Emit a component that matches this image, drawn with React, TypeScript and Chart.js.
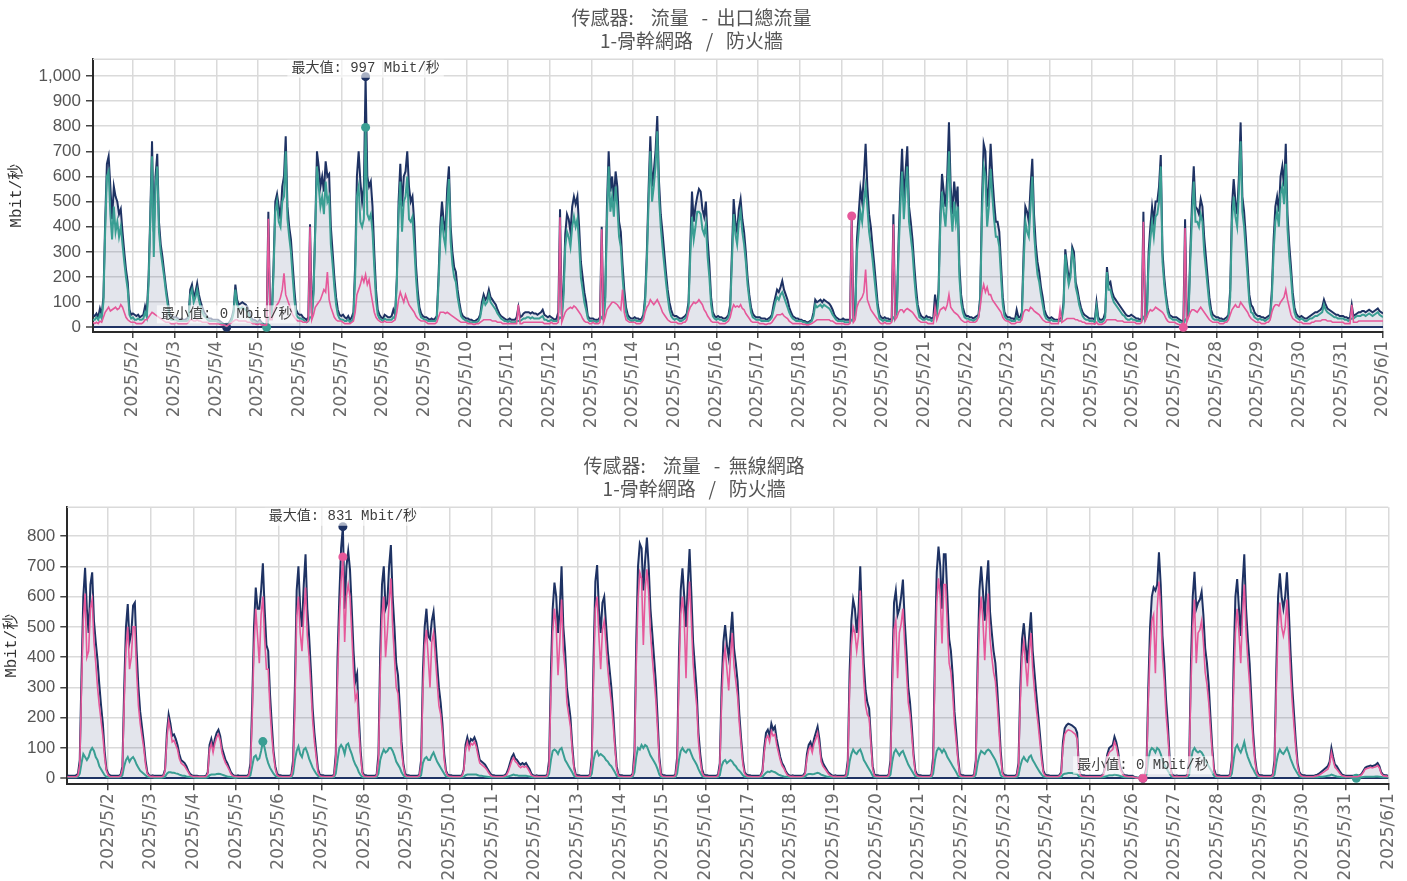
import React, { useEffect, useRef } from 'react';
import { Chart, registerables } from 'chart.js';

Chart.register(...registerables);

// first sample is 2025/5/1 01:00, hourly samples, x = hours since 2025/5/1 00:00
const START_HOUR = 1;
const DAY_HOURS = 24;

// x tick labels (one per midnight, 2025/5/2 .. 2025/6/1)
const dayLabels = [
  '2025/5/2', '2025/5/3', '2025/5/4', '2025/5/5', '2025/5/6', '2025/5/7', '2025/5/8', '2025/5/9',
  '2025/5/10', '2025/5/11', '2025/5/12', '2025/5/13', '2025/5/14', '2025/5/15', '2025/5/16', '2025/5/17',
  '2025/5/18', '2025/5/19', '2025/5/20', '2025/5/21', '2025/5/22', '2025/5/23', '2025/5/24', '2025/5/25',
  '2025/5/26', '2025/5/27', '2025/5/28', '2025/5/29', '2025/5/30', '2025/5/31', '2025/6/1',
];

const titleOut = ['传感器:    流量   -  出口總流量', '1-骨幹網路   /   防火牆'];
const titleWl = ['传感器:    流量   -  無線網路', '1-骨幹網路   /   防火牆'];
const unitLabel = 'Mbit/秒';

// ---------- chart 1: 出口總流量 (Mbit/s) ----------
const outNavy = [
  50, 45, 55, 40, 75, 50, 120, 420, 650, 680, 560, 430, 560, 520, 500, 450, 470, 380, 300, 230, 180, 70, 50, 55,
  50, 45, 50, 40, 45, 50, 85, 60, 200, 450, 740, 380, 600, 690, 420, 330, 280, 220, 160, 110, 60, 45, 40, 40,
  40, 35, 30, 35, 30, 30, 35, 40, 150, 170, 120, 140, 175, 130, 100, 80, 60, 50, 40, 35, 35, 30, 30, 30,
  30, 25, 20, 15, 10, 0, 15, 25, 40, 70, 170, 110, 90, 95, 100, 95, 90, 80, 60, 40, 30, 30, 25, 20,
  30, 20, 15, 10, 5, 460, 60, 50, 250, 500, 530, 480, 430, 560, 600, 760, 480, 400, 350, 250, 150, 70, 55, 50,
  50, 40, 35, 30, 40, 410, 55, 150, 400, 700, 640, 560, 600, 540, 660, 600, 610, 400, 300, 200, 120, 70, 50, 45,
  50, 40, 35, 45, 30, 40, 60, 250, 600, 700, 580, 500, 560, 997, 600, 560, 580, 480, 300, 150, 70, 50, 40, 35,
  50, 45, 40, 40, 45, 70, 50, 200, 500, 650, 480, 600, 620, 700, 560, 500, 520, 420, 250, 150, 80, 55, 45, 40,
  40, 35, 30, 35, 30, 35, 45, 200, 400, 500, 420, 380, 550, 640, 400, 300, 240, 220, 150, 100, 60, 45, 40, 35,
  35, 30, 30, 25, 25, 30, 35, 50, 100, 130, 110, 120, 150, 120, 110, 100, 90, 70, 55, 45, 40, 35, 30, 30,
  35, 30, 30, 30, 40, 80, 40, 45, 55, 60, 60, 60, 55, 60, 55, 55, 50, 55, 60, 70, 50, 45, 40, 45,
  40, 35, 30, 35, 60, 470, 50, 150, 370, 450, 430, 380, 480, 520, 490, 520, 400, 260, 200, 140, 100, 45, 35, 35,
  35, 30, 30, 30, 40, 400, 40, 120, 480, 700, 540, 600, 500, 620, 560, 420, 380, 250, 150, 80, 50, 40, 35, 35,
  40, 35, 35, 30, 35, 50, 120, 300, 550, 760, 560, 620, 700, 840, 580, 450, 380, 300, 220, 150, 100, 70, 50, 45,
  45, 40, 35, 35, 40, 45, 55, 100, 330, 540, 420, 480, 520, 550, 540, 470, 440, 500, 350, 250, 120, 60, 45, 40,
  45, 40, 40, 35, 35, 40, 50, 90, 300, 510, 420, 380, 470, 510, 430, 380, 300, 200, 130, 80, 55, 45, 40, 40,
  40, 35, 35, 35, 30, 35, 40, 50, 90, 120, 150, 140, 160, 185, 150, 130, 110, 80, 60, 45, 40, 35, 35, 30,
  30, 25, 25, 20, 20, 25, 30, 60, 110, 100, 105, 110, 100, 110, 105, 100, 95, 85, 70, 50, 40, 35, 30, 30,
  35, 30, 30, 30, 30, 445, 40, 60, 350, 450, 550, 500, 600, 730, 560, 450, 400, 320, 250, 170, 90, 50, 40, 35,
  40, 35, 35, 30, 35, 450, 50, 80, 350, 550, 710, 500, 620, 720, 480, 420, 350, 250, 160, 90, 60, 45, 40, 35,
  45, 40, 40, 35, 40, 130, 60, 150, 450, 610, 540, 480, 600, 815, 560, 450, 580, 500, 560, 250, 130, 80, 55, 45,
  45, 40, 40, 35, 40, 45, 50, 120, 500, 730, 700, 480, 560, 730, 600, 500, 420, 420, 380, 250, 120, 60, 45, 40,
  40, 35, 35, 30, 70, 40, 40, 60, 300, 480, 460, 420, 560, 670, 450, 330, 260, 220, 160, 120, 70, 50, 40, 35,
  40, 35, 30, 30, 30, 35, 40, 100, 310, 250, 190, 220, 320, 300, 180, 150, 110, 80, 60, 50, 45, 40, 35, 35,
  35, 30, 100, 40, 30, 30, 35, 60, 240, 170, 180, 140, 120, 110, 100, 90, 80, 70, 60, 50, 45, 45, 50, 45,
  40, 35, 35, 30, 35, 460, 40, 60, 300, 400, 480, 420, 500, 500, 560, 685, 300, 200, 130, 80, 50, 45, 40, 40,
  40, 35, 30, 25, 15, 430, 40, 60, 300, 500, 640, 480, 470, 450, 510, 480, 360, 280, 200, 120, 70, 50, 45, 40,
  40, 35, 35, 30, 35, 40, 50, 150, 480, 590, 500, 450, 600, 815, 520, 460, 360, 250, 130, 90, 80, 60, 50, 45,
  45, 40, 40, 35, 40, 45, 50, 150, 350, 480, 520, 460, 600, 640, 560, 730, 450, 330, 240, 140, 80, 55, 45, 40,
  45, 40, 35, 35, 40, 45, 50, 55, 60, 60, 65, 70, 80, 110, 90, 75, 70, 65, 60, 55, 50, 50, 45, 45,
  45, 40, 40, 35, 40, 90, 45, 50, 55, 60, 60, 65, 65, 60, 65, 70, 65, 60, 65, 70, 75, 65, 60, 55,
];

const outTeal = [
  30, 30, 40, 30, 50, 35, 100, 380, 600, 620, 450, 350, 480, 380, 420, 360, 400, 330, 260, 200, 150, 50, 35, 40,
  30, 30, 35, 30, 30, 35, 60, 40, 170, 420, 680, 280, 560, 640, 380, 300, 250, 200, 140, 90, 45, 30, 30, 30,
  30, 25, 25, 25, 25, 25, 25, 30, 130, 150, 100, 120, 150, 110, 80, 60, 45, 40, 30, 25, 25, 25, 25, 25,
  20, 18, 15, 12, 8, 5, 10, 20, 30, 60, 150, 90, 75, 75, 80, 75, 70, 60, 45, 30, 20, 20, 15, 15,
  20, 15, 10, 5, 0, 30, 40, 35, 220, 460, 500, 420, 400, 500, 520, 700, 430, 360, 300, 200, 110, 50, 40, 35,
  35, 30, 25, 20, 25, 40, 40, 130, 380, 640, 560, 480, 520, 450, 580, 500, 520, 330, 250, 160, 90, 50, 35, 30,
  30, 25, 25, 30, 20, 25, 40, 200, 520, 560, 420, 400, 430, 795, 450, 430, 450, 380, 240, 110, 50, 35, 30, 25,
  35, 30, 30, 30, 30, 40, 35, 180, 450, 580, 380, 500, 520, 600, 430, 420, 440, 330, 200, 110, 60, 40, 35, 30,
  30, 25, 25, 25, 25, 25, 35, 170, 350, 440, 360, 320, 480, 590, 340, 250, 200, 180, 120, 80, 45, 35, 30, 25,
  25, 20, 20, 20, 20, 20, 25, 40, 80, 110, 90, 100, 130, 100, 90, 80, 70, 55, 45, 35, 30, 25, 25, 20,
  25, 20, 20, 20, 25, 25, 25, 30, 35, 35, 40, 40, 35, 40, 35, 35, 35, 35, 40, 45, 30, 30, 25, 25,
  30, 25, 25, 25, 30, 40, 35, 120, 320, 380, 360, 320, 400, 440, 400, 430, 330, 200, 150, 100, 70, 35, 25, 25,
  25, 25, 20, 25, 30, 40, 30, 100, 420, 640, 460, 520, 440, 560, 480, 360, 320, 200, 110, 60, 35, 30, 25, 25,
  30, 25, 25, 25, 25, 40, 100, 260, 500, 700, 500, 560, 640, 780, 520, 400, 320, 250, 180, 120, 70, 45, 35, 30,
  35, 30, 25, 25, 30, 35, 45, 80, 280, 440, 350, 400, 460, 460, 450, 390, 370, 410, 280, 200, 90, 45, 35, 30,
  35, 30, 30, 25, 25, 30, 40, 70, 260, 450, 370, 330, 420, 460, 380, 330, 260, 170, 110, 60, 40, 35, 30, 30,
  30, 25, 25, 25, 25, 25, 30, 40, 70, 100, 120, 110, 130, 140, 120, 100, 80, 60, 45, 35, 30, 25, 25, 25,
  25, 20, 20, 15, 15, 20, 25, 45, 90, 80, 85, 90, 80, 90, 85, 80, 75, 65, 50, 40, 30, 25, 25, 25,
  25, 20, 20, 20, 20, 30, 30, 45, 300, 380, 460, 420, 500, 560, 480, 380, 330, 270, 200, 130, 70, 35, 30, 25,
  30, 25, 25, 25, 25, 40, 40, 60, 300, 480, 620, 430, 540, 640, 420, 360, 300, 200, 120, 70, 40, 35, 30, 30,
  35, 30, 30, 25, 30, 60, 45, 120, 400, 540, 460, 400, 520, 700, 480, 380, 500, 420, 480, 200, 100, 60, 40, 35,
  35, 30, 30, 25, 30, 35, 40, 100, 440, 640, 600, 400, 480, 630, 520, 430, 360, 360, 320, 200, 90, 45, 35, 30,
  30, 25, 25, 25, 40, 30, 30, 45, 250, 420, 380, 360, 480, 600, 380, 280, 210, 180, 130, 90, 50, 35, 30, 25,
  30, 25, 25, 25, 25, 25, 30, 80, 290, 220, 170, 200, 300, 270, 160, 130, 90, 65, 45, 35, 30, 30, 25, 25,
  25, 20, 80, 25, 20, 20, 25, 40, 220, 150, 150, 120, 100, 90, 80, 70, 60, 50, 45, 35, 30, 30, 35, 30,
  30, 25, 25, 25, 25, 40, 30, 45, 260, 350, 420, 360, 440, 450, 500, 640, 260, 170, 110, 60, 40, 35, 30, 30,
  30, 25, 20, 20, 10, 30, 35, 45, 260, 440, 580, 420, 420, 400, 450, 420, 300, 230, 160, 90, 50, 35, 30, 30,
  30, 25, 25, 25, 25, 30, 40, 120, 420, 520, 440, 400, 540, 740, 460, 400, 300, 200, 100, 60, 55, 40, 35, 30,
  35, 30, 30, 25, 30, 35, 40, 120, 300, 420, 460, 400, 530, 560, 490, 650, 390, 280, 200, 110, 60, 40, 35, 30,
  35, 30, 25, 25, 30, 35, 35, 40, 45, 45, 50, 55, 60, 90, 70, 60, 55, 50, 45, 40, 40, 35, 35, 35,
  35, 30, 30, 25, 30, 35, 35, 40, 45, 45, 45, 50, 50, 45, 50, 55, 50, 45, 50, 55, 60, 50, 45, 40,
];

const outPink = [
  20, 15, 20, 15, 25, 20, 40, 60, 70, 80, 65, 70, 75, 80, 70, 75, 90, 80, 60, 40, 30, 25, 20, 20,
  20, 15, 15, 15, 15, 20, 30, 30, 40, 50, 60, 55, 50, 45, 40, 35, 30, 25, 20, 20, 20, 15, 15, 15,
  20, 15, 15, 15, 15, 15, 15, 20, 30, 30, 25, 25, 30, 25, 25, 20, 20, 20, 20, 15, 15, 15, 15, 15,
  15, 12, 10, 10, 8, 5, 10, 15, 20, 25, 30, 30, 25, 25, 25, 25, 25, 20, 20, 20, 15, 15, 12, 12,
  15, 10, 10, 8, 10, 432, 30, 30, 60, 80, 90, 100, 120, 150, 215, 130, 110, 90, 70, 50, 40, 30, 25, 25,
  25, 20, 20, 20, 25, 400, 30, 50, 80, 90, 100, 110, 130, 150, 140, 220, 110, 80, 60, 40, 30, 25, 25, 25,
  20, 15, 15, 15, 15, 20, 25, 60, 130, 150, 170, 200, 180, 210, 170, 190, 140, 100, 60, 40, 30, 25, 20, 20,
  25, 20, 20, 20, 20, 25, 30, 60, 110, 140, 120, 100, 130, 110, 90, 80, 70, 60, 45, 35, 30, 25, 25, 25,
  20, 15, 15, 15, 15, 15, 20, 40, 60, 60, 60, 55, 60, 55, 50, 45, 40, 35, 30, 25, 20, 20, 20, 20,
  15, 15, 15, 12, 12, 15, 15, 20, 25, 30, 30, 30, 30, 30, 25, 25, 25, 20, 20, 20, 15, 15, 15, 15,
  15, 15, 15, 15, 15, 90, 15, 15, 20, 20, 20, 20, 20, 20, 20, 20, 20, 20, 20, 20, 15, 15, 15, 15,
  20, 15, 15, 15, 20, 438, 20, 40, 60, 70, 75, 80, 75, 85, 80, 70, 60, 50, 35, 25, 20, 20, 15, 15,
  20, 15, 15, 15, 20, 390, 20, 40, 70, 80, 90, 100, 100, 95, 90, 80, 70, 150, 60, 30, 25, 20, 20, 20,
  20, 15, 15, 15, 20, 30, 60, 80, 90, 110, 100, 90, 100, 110, 95, 80, 60, 50, 40, 30, 25, 20, 20, 20,
  20, 15, 15, 15, 20, 20, 30, 60, 80, 90, 100, 95, 100, 110, 100, 90, 70, 60, 45, 35, 25, 20, 20, 20,
  20, 15, 15, 15, 15, 20, 25, 40, 70, 90, 80, 85, 80, 90, 75, 70, 55, 45, 35, 25, 20, 20, 20, 20,
  15, 15, 15, 12, 12, 15, 15, 20, 30, 40, 50, 50, 50, 55, 45, 40, 35, 25, 20, 15, 15, 15, 15, 15,
  15, 12, 12, 10, 10, 12, 15, 20, 25, 30, 30, 30, 30, 30, 30, 30, 30, 25, 25, 20, 15, 15, 15, 15,
  15, 12, 12, 12, 15, 443, 20, 30, 80, 100, 110, 120, 140, 230, 110, 90, 70, 60, 50, 40, 30, 20, 15, 15,
  20, 15, 15, 15, 20, 410, 30, 40, 60, 70, 70, 60, 70, 75, 70, 65, 60, 50, 40, 30, 25, 20, 20, 20,
  20, 15, 15, 15, 15, 80, 30, 50, 70, 75, 80, 70, 90, 130, 80, 70, 60, 55, 50, 40, 30, 25, 20, 20,
  25, 20, 20, 20, 20, 25, 40, 80, 140, 170, 140, 160, 130, 130, 110, 100, 90, 80, 70, 60, 40, 30, 25, 25,
  20, 15, 15, 15, 20, 20, 20, 30, 60, 70, 70, 65, 80, 75, 65, 60, 55, 50, 40, 30, 25, 20, 20, 20,
  15, 15, 15, 15, 15, 70, 20, 25, 30, 35, 35, 35, 35, 35, 30, 30, 25, 25, 20, 20, 15, 15, 15, 15,
  15, 12, 20, 12, 12, 12, 15, 20, 30, 30, 30, 30, 30, 30, 25, 25, 25, 25, 20, 20, 20, 20, 20, 20,
  20, 15, 15, 15, 20, 420, 25, 40, 60, 70, 65, 70, 80, 75, 70, 65, 60, 50, 35, 25, 20, 20, 20, 20,
  15, 12, 10, 5, 0, 395, 20, 40, 60, 70, 70, 65, 60, 70, 80, 70, 60, 50, 40, 30, 25, 20, 20, 20,
  20, 15, 15, 15, 20, 20, 30, 50, 70, 80, 90, 80, 80, 100, 90, 80, 70, 60, 45, 35, 30, 25, 20, 20,
  20, 15, 15, 15, 20, 20, 30, 60, 80, 90, 90, 85, 100, 110, 120, 150, 110, 80, 50, 35, 30, 25, 20, 20,
  20, 15, 15, 15, 15, 15, 20, 20, 25, 25, 25, 25, 30, 30, 30, 25, 25, 25, 20, 20, 20, 20, 20, 20,
  20, 15, 15, 15, 15, 90, 20, 20, 20, 25, 25, 25, 25, 25, 25, 25, 25, 25, 25, 25, 25, 25, 25, 25,
];

// ---------- chart 2: 無線網路 (Mbit/s) ----------
const wlNavy = [
  10, 8, 8, 8, 8, 10, 15, 60, 350, 600, 695, 560, 480, 640, 680, 520, 450, 390, 310, 240, 180, 90, 30, 15,
  10, 8, 8, 8, 8, 8, 12, 40, 300, 500, 575, 450, 480, 570, 580, 420, 300, 220, 170, 120, 60, 20, 10, 8,
  10, 8, 8, 8, 8, 8, 10, 30, 150, 210, 180, 140, 145, 130, 110, 80, 60, 55, 50, 40, 25, 15, 10, 8,
  8, 8, 7, 7, 7, 7, 8, 20, 110, 130, 100, 130, 150, 160, 140, 100, 80, 60, 50, 35, 20, 12, 8, 8,
  10, 8, 8, 8, 8, 8, 12, 50, 250, 500, 630, 560, 560, 620, 710, 560, 440, 420, 280, 180, 90, 40, 15, 10,
  10, 8, 8, 8, 8, 8, 12, 60, 300, 620, 700, 560, 500, 640, 740, 560, 470, 360, 230, 150, 90, 30, 12, 10,
  10, 8, 8, 8, 8, 8, 12, 80, 400, 600, 760, 831, 560, 700, 750, 690, 560, 420, 320, 345, 200, 90, 20, 10,
  10, 8, 8, 8, 8, 8, 12, 80, 420, 640, 700, 560, 580, 700, 770, 600, 500, 380, 340, 240, 120, 50, 15, 10,
  10, 8, 8, 8, 8, 8, 12, 60, 350, 500, 560, 470, 460, 520, 550, 470, 380, 300, 250, 180, 80, 25, 12, 10,
  10, 8, 8, 8, 8, 8, 10, 30, 110, 135, 110, 130, 125, 135, 120, 90, 60, 55, 50, 45, 35, 25, 15, 10,
  10, 8, 8, 8, 8, 8, 10, 15, 30, 50, 70, 80, 65, 60, 50, 45, 50, 45, 50, 40, 30, 15, 10, 8,
  10, 8, 8, 8, 8, 8, 12, 60, 350, 560, 646, 600, 480, 560, 700, 500, 420, 300, 250, 200, 110, 40, 12, 10,
  10, 8, 8, 8, 8, 8, 12, 70, 400, 650, 704, 560, 480, 580, 600, 510, 420, 360, 300, 220, 120, 40, 12, 10,
  10, 8, 8, 8, 8, 8, 15, 90, 450, 700, 775, 760, 620, 720, 795, 700, 560, 480, 400, 320, 200, 70, 15, 10,
  10, 8, 8, 8, 8, 8, 12, 70, 400, 620, 693, 600, 500, 640, 757, 610, 450, 370, 290, 150, 80, 30, 12, 10,
  10, 8, 8, 8, 8, 8, 12, 50, 300, 450, 506, 440, 400, 470, 550, 430, 380, 320, 210, 130, 60, 20, 12, 10,
  10, 8, 8, 8, 8, 8, 10, 25, 100, 150, 160, 140, 180, 160, 170, 130, 100, 70, 50, 40, 25, 15, 10, 8,
  10, 8, 8, 8, 8, 8, 10, 20, 80, 110, 120, 100, 130, 150, 170, 130, 70, 50, 40, 30, 20, 15, 10, 8,
  10, 8, 8, 8, 8, 8, 12, 60, 350, 520, 590, 560, 480, 550, 700, 520, 380, 290, 250, 230, 130, 40, 12, 10,
  10, 8, 8, 8, 8, 8, 12, 60, 350, 580, 620, 540, 560, 600, 656, 520, 420, 300, 250, 170, 80, 25, 12, 10,
  10, 8, 8, 8, 8, 8, 12, 70, 420, 680, 765, 700, 560, 740, 740, 600, 460, 420, 340, 220, 150, 70, 15, 10,
  10, 8, 8, 8, 8, 8, 12, 60, 380, 620, 700, 620, 520, 640, 720, 550, 480, 420, 380, 300, 200, 90, 20, 10,
  10, 8, 8, 8, 8, 8, 12, 50, 300, 460, 512, 440, 380, 470, 548, 420, 350, 280, 215, 150, 80, 25, 12, 10,
  10, 8, 8, 8, 8, 8, 10, 20, 120, 165, 175, 180, 178, 175, 170, 165, 150, 30, 12, 10, 10, 8, 8, 8,
  8, 8, 8, 8, 8, 8, 10, 20, 50, 80, 100, 105, 110, 137, 120, 90, 45, 25, 15, 10, 10, 8, 8, 8,
  5, 3, 2, 2, 1, 0, 8, 40, 300, 500, 600, 630, 620, 640, 746, 640, 470, 380, 260, 180, 70, 20, 10, 8,
  10, 8, 8, 8, 8, 8, 12, 60, 380, 600, 682, 560, 580, 590, 616, 540, 430, 380, 310, 200, 100, 30, 12, 10,
  10, 8, 8, 8, 8, 8, 12, 60, 380, 600, 658, 560, 470, 640, 740, 560, 460, 380, 260, 150, 70, 25, 12, 10,
  10, 8, 8, 8, 8, 8, 12, 60, 360, 600, 677, 600, 560, 600, 680, 560, 420, 300, 210, 120, 50, 20, 12, 10,
  10, 8, 8, 8, 8, 8, 10, 12, 15, 20, 25, 30, 35, 40, 55, 100, 70, 45, 40, 30, 20, 12, 10, 8,
  8, 8, 8, 8, 8, 6, 8, 10, 15, 25, 35, 38, 40, 42, 40, 42, 45, 50, 40, 20, 12, 10, 10, 8,
];

const wlPink = [
  5, 5, 5, 5, 5, 5, 10, 45, 300, 520, 610, 400, 420, 560, 590, 450, 380, 300, 240, 190, 140, 70, 25, 10,
  5, 5, 5, 5, 5, 5, 8, 30, 250, 430, 500, 360, 400, 500, 500, 350, 240, 180, 140, 100, 45, 15, 8, 5,
  6, 5, 5, 5, 5, 5, 7, 25, 130, 190, 160, 120, 125, 110, 95, 65, 50, 45, 40, 30, 20, 10, 7, 5,
  6, 6, 5, 5, 5, 5, 6, 15, 95, 115, 85, 115, 135, 145, 125, 85, 65, 50, 40, 28, 15, 8, 6, 6,
  5, 5, 5, 5, 5, 5, 8, 35, 200, 430, 560, 470, 380, 540, 600, 460, 360, 360, 230, 140, 75, 30, 10, 6,
  6, 5, 5, 5, 5, 5, 8, 40, 230, 530, 600, 480, 420, 540, 630, 470, 400, 300, 190, 120, 70, 20, 8, 6,
  6, 5, 5, 5, 5, 5, 8, 60, 330, 520, 650, 731, 450, 600, 640, 600, 480, 350, 260, 280, 160, 70, 15, 6,
  6, 5, 5, 5, 5, 5, 8, 60, 340, 540, 600, 400, 480, 580, 660, 500, 400, 300, 280, 190, 90, 40, 10, 6,
  6, 5, 5, 5, 5, 5, 8, 45, 290, 440, 490, 400, 300, 450, 480, 400, 320, 240, 210, 150, 60, 20, 8, 6,
  6, 5, 5, 5, 5, 5, 7, 25, 95, 120, 95, 115, 110, 120, 105, 75, 50, 45, 40, 35, 28, 18, 10, 6,
  6, 5, 5, 5, 5, 5, 7, 10, 22, 40, 58, 68, 55, 50, 40, 35, 40, 36, 40, 32, 22, 10, 7, 5,
  6, 5, 5, 5, 5, 5, 8, 40, 280, 480, 560, 500, 340, 450, 590, 420, 360, 250, 210, 170, 90, 30, 8, 6,
  6, 5, 5, 5, 5, 5, 8, 50, 330, 560, 600, 470, 360, 490, 520, 440, 360, 300, 250, 180, 100, 30, 8, 6,
  6, 5, 5, 5, 5, 5, 10, 65, 370, 590, 680, 660, 440, 620, 690, 610, 480, 400, 330, 260, 160, 55, 10, 6,
  6, 5, 5, 5, 5, 5, 8, 50, 330, 540, 600, 520, 330, 550, 650, 520, 380, 300, 240, 120, 60, 20, 8, 6,
  6, 5, 5, 5, 5, 5, 8, 38, 250, 380, 430, 360, 290, 400, 480, 370, 320, 270, 180, 110, 45, 15, 8, 6,
  6, 5, 5, 5, 5, 5, 7, 20, 85, 130, 140, 120, 155, 140, 145, 110, 85, 60, 42, 33, 20, 10, 7, 5,
  6, 5, 5, 5, 5, 5, 7, 15, 65, 95, 105, 85, 115, 130, 150, 110, 55, 40, 32, 24, 15, 10, 7, 5,
  6, 5, 5, 5, 5, 5, 8, 45, 290, 440, 500, 480, 420, 470, 620, 440, 320, 240, 210, 200, 110, 30, 8, 6,
  6, 5, 5, 5, 5, 5, 8, 45, 290, 490, 520, 330, 480, 510, 560, 440, 350, 250, 210, 140, 65, 18, 8, 6,
  6, 5, 5, 5, 5, 5, 8, 50, 350, 580, 660, 600, 445, 640, 640, 500, 380, 350, 280, 180, 120, 55, 10, 6,
  6, 5, 5, 5, 5, 5, 8, 45, 320, 520, 600, 520, 390, 520, 610, 460, 400, 350, 320, 250, 160, 70, 15, 6,
  6, 5, 5, 5, 5, 5, 8, 38, 250, 400, 450, 380, 303, 410, 480, 360, 290, 230, 180, 120, 60, 18, 8, 6,
  6, 5, 5, 5, 5, 5, 7, 16, 100, 145, 155, 160, 158, 155, 150, 145, 130, 22, 8, 6, 6, 5, 5, 5,
  5, 5, 5, 5, 5, 5, 7, 15, 40, 70, 85, 90, 95, 120, 105, 75, 35, 20, 10, 7, 6, 5, 5, 5,
  3, 2, 1, 1, 1, 0, 5, 30, 250, 420, 520, 540, 347, 560, 650, 560, 400, 320, 210, 140, 55, 15, 6, 5,
  6, 5, 5, 5, 5, 5, 8, 45, 310, 500, 590, 380, 480, 490, 520, 450, 350, 310, 250, 160, 80, 22, 8, 6,
  6, 5, 5, 5, 5, 5, 8, 45, 300, 480, 560, 480, 380, 540, 640, 480, 390, 310, 210, 120, 55, 18, 8, 6,
  6, 5, 5, 5, 5, 5, 8, 45, 290, 500, 580, 500, 470, 500, 590, 470, 350, 250, 170, 95, 40, 15, 8, 6,
  6, 5, 5, 5, 5, 5, 7, 8, 10, 14, 18, 22, 26, 30, 45, 85, 58, 36, 30, 22, 14, 8, 7, 5,
  5, 5, 5, 5, 5, 5, 6, 8, 12, 20, 30, 32, 34, 36, 34, 36, 38, 42, 34, 16, 9, 7, 7, 5,
];

const wlTeal = [
  3, 3, 3, 3, 3, 3, 5, 15, 50, 80, 70, 60, 70, 90, 100, 90, 70, 60, 40, 30, 20, 10, 5, 3,
  3, 3, 3, 3, 3, 3, 4, 10, 40, 60, 70, 55, 65, 70, 60, 45, 35, 25, 20, 15, 10, 5, 3, 3,
  3, 2, 2, 2, 2, 2, 3, 5, 15, 20, 20, 18, 18, 16, 15, 12, 10, 8, 8, 6, 5, 4, 3, 3,
  2, 2, 2, 2, 2, 2, 2, 4, 10, 12, 12, 12, 14, 15, 14, 12, 10, 8, 6, 5, 4, 3, 2, 2,
  3, 3, 3, 3, 3, 3, 4, 10, 40, 70, 75, 60, 65, 90, 121, 100, 70, 50, 35, 25, 15, 8, 4, 3,
  3, 3, 3, 3, 3, 3, 4, 15, 60, 90, 105, 80, 70, 95, 100, 85, 65, 50, 35, 25, 15, 8, 4, 3,
  3, 3, 3, 3, 3, 3, 4, 15, 60, 100, 110, 100, 80, 110, 115, 95, 80, 60, 45, 35, 20, 10, 4, 3,
  3, 3, 3, 3, 3, 3, 4, 15, 60, 80, 95, 85, 90, 100, 100, 90, 75, 55, 45, 35, 20, 10, 4, 3,
  3, 3, 3, 3, 3, 3, 4, 10, 50, 65, 70, 60, 60, 75, 85, 70, 55, 45, 35, 25, 15, 6, 4, 3,
  3, 3, 3, 3, 3, 3, 3, 5, 10, 12, 12, 12, 12, 12, 12, 10, 8, 8, 7, 6, 5, 4, 3, 3,
  3, 3, 3, 3, 3, 3, 3, 4, 6, 8, 10, 12, 10, 10, 8, 8, 8, 8, 8, 7, 6, 4, 3, 3,
  3, 3, 3, 3, 3, 3, 4, 15, 60, 90, 95, 90, 80, 95, 100, 80, 60, 50, 40, 30, 20, 8, 4, 3,
  3, 3, 3, 3, 3, 3, 4, 15, 60, 85, 90, 75, 80, 75, 70, 60, 55, 45, 40, 30, 20, 8, 4, 3,
  3, 3, 3, 3, 3, 3, 5, 20, 70, 100, 95, 110, 100, 110, 105, 90, 75, 65, 55, 45, 30, 12, 4, 3,
  3, 3, 3, 3, 3, 3, 4, 15, 60, 90, 100, 90, 85, 95, 95, 80, 65, 55, 45, 30, 18, 8, 4, 3,
  3, 3, 3, 3, 3, 3, 4, 10, 40, 55, 60, 50, 55, 60, 55, 45, 40, 30, 25, 18, 10, 5, 4, 3,
  3, 3, 3, 3, 3, 3, 3, 5, 12, 18, 22, 20, 24, 22, 20, 16, 12, 10, 8, 6, 5, 4, 3, 3,
  3, 3, 3, 3, 3, 3, 3, 5, 12, 14, 14, 13, 14, 16, 18, 16, 12, 10, 8, 6, 5, 4, 3, 3,
  3, 3, 3, 3, 3, 3, 4, 12, 55, 80, 95, 85, 80, 90, 95, 80, 60, 50, 40, 30, 20, 8, 4, 3,
  3, 3, 3, 3, 3, 3, 4, 12, 55, 85, 95, 85, 75, 85, 90, 75, 60, 45, 35, 25, 15, 6, 4, 3,
  3, 3, 3, 3, 3, 3, 4, 15, 60, 90, 100, 95, 85, 95, 85, 70, 60, 50, 40, 30, 20, 8, 4, 3,
  3, 3, 3, 3, 3, 3, 4, 12, 50, 75, 90, 85, 80, 90, 95, 90, 80, 70, 60, 45, 30, 10, 4, 3,
  3, 3, 3, 3, 3, 3, 4, 10, 40, 60, 70, 60, 55, 70, 75, 60, 50, 40, 30, 20, 12, 6, 4, 3,
  3, 3, 3, 3, 3, 3, 3, 4, 12, 15, 16, 17, 17, 17, 16, 15, 14, 6, 4, 3, 3, 3, 3, 3,
  3, 3, 3, 3, 3, 3, 3, 4, 6, 8, 10, 10, 10, 12, 11, 10, 8, 6, 4, 3, 3, 3, 3, 3,
  3, 2, 2, 2, 1, 1, 3, 12, 60, 90, 100, 95, 85, 100, 95, 80, 60, 45, 35, 25, 15, 6, 4, 3,
  3, 3, 3, 3, 3, 3, 4, 12, 60, 90, 100, 90, 85, 90, 85, 75, 60, 50, 40, 30, 18, 8, 4, 3,
  3, 3, 3, 3, 3, 3, 4, 15, 60, 100, 110, 95, 85, 100, 120, 90, 70, 55, 40, 30, 18, 8, 4, 3,
  3, 3, 3, 3, 3, 3, 4, 12, 50, 80, 95, 85, 80, 90, 100, 85, 65, 50, 35, 25, 15, 6, 4, 3,
  3, 3, 3, 3, 3, 3, 3, 3, 4, 5, 5, 6, 7, 8, 9, 12, 10, 8, 6, 5, 4, 3, 3, 3,
  3, 3, 2, 2, 2, 0, 2, 3, 3, 4, 5, 5, 5, 5, 5, 5, 6, 6, 5, 4, 3, 3, 3, 3,
];

// ---------- styling ----------
const NAVY = '#1e3263';
const TEAL = '#3a9e93';
const PINK = '#e6589a';
const FILL = 'rgba(35,55,110,0.13)';
const GRID = '#dadada';
const AXIS = '#2a2a2a';
const XFONT = '"DejaVu Sans", "Noto Sans CJK TC", sans-serif';
const YFONT = '"Liberation Sans", "DejaVu Sans", sans-serif';
const CJK = '"Noto Sans CJK TC", "Noto Sans CJK SC", sans-serif';
const MONO = '"Liberation Mono", "DejaVu Sans Mono", "Noto Sans CJK TC", monospace';

const toPoints = (arr: number[]) => arr.map((v, i) => ({ x: START_HOUR + i, y: v }));

const extremaRadius = (arr: number[]) => {
  const mx = arr.indexOf(Math.max(...arr));
  const mn = arr.indexOf(Math.min(...arr));
  return (c: any) => (c.dataIndex === mx || c.dataIndex === mn ? 4.5 : 0);
};

const extremaLabelPlugin = {
  id: 'extremaLabels',
  afterDatasetsDraw(chart: any, _args: any, opts: any) {
    const idx = opts.datasetIndex;
    const meta = chart.getDatasetMeta(idx);
    const vals: number[] = chart.data.datasets[idx].data.map((p: any) => p.y);
    const { ctx, chartArea } = chart;
    const items = [
      { name: '最大值', i: vals.indexOf(Math.max(...vals)) },
      { name: '最小值', i: vals.indexOf(Math.min(...vals)) },
    ];
    ctx.save();
    ctx.font = `14px ${MONO}`;
    ctx.textAlign = 'center';
    ctx.textBaseline = 'middle';
    for (const it of items) {
      const el = meta.data[it.i];
      if (!el) continue;
      const text = `${it.name}: ${vals[it.i]} ${unitLabel}`;
      const w = ctx.measureText(text).width;
      let cy = el.y - 13;
      cy = Math.max(chartArea.top + 9.5, Math.min(chartArea.bottom - 9, cy));
      ctx.fillStyle = 'rgba(255,255,255,0.62)';
      ctx.fillRect(el.x - w / 2 - 4, cy - 9, w + 8, 18);
      ctx.fillStyle = 'rgba(40,40,40,0.9)';
      ctx.fillText(text, el.x, cy);
    }
    ctx.restore();
  },
};

const topFramePlugin = {
  id: 'topFrame',
  beforeDatasetsDraw(chart: any) {
    const { ctx, chartArea } = chart;
    ctx.save();
    ctx.strokeStyle = GRID;
    ctx.lineWidth = 1.5;
    ctx.beginPath();
    ctx.moveTo(chartArea.left, chartArea.top);
    ctx.lineTo(chartArea.right, chartArea.top);
    ctx.stroke();
    ctx.restore();
  },
};

interface PanelProps {
  title: string[];
  navy: number[];
  teal: number[];
  pink: number[];
  width: number;
  height: number;
  yMin: number;
  yMax: number;
  yAxisWidth: number;
  xAxisHeight: number;
  rightPad: number;
  yTitlePad: number;
}

function Panel(p: PanelProps) {
  const ref = useRef<HTMLCanvasElement | null>(null);
  useEffect(() => {
    if (!ref.current) return;
    const line = (label: string, arr: number[], color: string, width: number, fill: boolean) => ({
      label,
      data: toPoints(arr),
      borderColor: color,
      backgroundColor: fill ? FILL : color,
      fill: fill ? 'origin' : false,
      borderWidth: width,
      tension: 0,
      pointRadius: extremaRadius(arr),
      pointBackgroundColor: color,
      pointBorderColor: color,
      pointBorderWidth: 0,
      pointHoverRadius: 0,
    });
    const chart = new Chart(ref.current, {
      type: 'line',
      data: {
        datasets: [
          line('pink', p.pink, PINK, 1.6, false),
          line('teal', p.teal, TEAL, 2, false),
          line('navy', p.navy, NAVY, 2, true),
        ],
      },
      options: {
        responsive: false,
        animation: false,
        devicePixelRatio: 1,
        events: [],
        parsing: false,
        layout: { padding: { left: 0, right: p.rightPad, top: 0, bottom: 0 } },
        plugins: {
          legend: { display: false },
          tooltip: { enabled: false },
          title: {
            display: true,
            text: p.title,
            color: '#555',
            font: { family: CJK, size: 19, weight: 'normal', lineHeight: 1.21 },
            padding: { top: 6.5, bottom: 6.8 },
          },
          extremaLabels: { datasetIndex: 2 },
        } as any,
        scales: {
          x: {
            type: 'linear',
            min: START_HOUR,
            max: dayLabels.length * DAY_HOURS,
            afterFit: (s: any) => {
              s.height = p.xAxisHeight;
              s.paddingLeft = 0;
              s.paddingRight = 0;
            },
            border: { display: true, color: AXIS, width: 2 },
            grid: { color: GRID, lineWidth: 1.5, tickLength: 6, tickColor: '#444', tickWidth: 1.5 },
            ticks: {
              stepSize: DAY_HOURS,
              autoSkip: false,
              includeBounds: false,
              minRotation: 90,
              maxRotation: 90,
              padding: 3,
              color: '#6b6b6b',
              font: { family: XFONT, size: 17 },
              callback: (v: any) => dayLabels[Math.round(Number(v) / DAY_HOURS) - 1] ?? '',
            },
          },
          y: {
            type: 'linear',
            min: p.yMin,
            max: p.yMax,
            afterFit: (s: any) => {
              s.width = p.yAxisWidth;
              s.paddingTop = 0;
              s.paddingBottom = 0;
            },
            border: { display: true, color: AXIS, width: 2 },
            grid: {
              color: (c: any) => (c.tick && c.tick.value === 0 ? NAVY : GRID),
              lineWidth: (c: any) => (c.tick && c.tick.value === 0 ? 2 : 1.5),
              tickLength: 7,
              tickColor: '#444',
              tickWidth: 1.5,
            },
            ticks: {
              stepSize: 100,
              includeBounds: false,
              padding: 5,
              color: '#555',
              font: { family: YFONT, size: 17 },
            },
            title: {
              display: true,
              text: unitLabel,
              color: '#333',
              font: { family: MONO, size: 16 },
              padding: { top: p.yTitlePad, bottom: 0 },
            },
          },
        },
      } as any,
      plugins: [extremaLabelPlugin, topFramePlugin],
    });
    return () => chart.destroy();
  }, []);
  return <canvas ref={ref} width={p.width} height={p.height} style={{ display: 'block' }} />;
}

export default function App() {
  return (
    <div style={{ position: 'absolute', left: 0, top: 0, width: 1407, height: 881, background: '#fff' }}>
      <div style={{ position: 'absolute', left: 0, top: 0 }}>
        <Panel
          title={titleOut}
          navy={outNavy}
          teal={outTeal}
          pink={outPink}
          width={1407}
          height={440}
          yMin={-18.5}
          yMax={1066}
          yAxisWidth={93}
          xAxisHeight={108}
          rightPad={24}
          yTitlePad={7.5}
        />
      </div>
      <div style={{ position: 'absolute', left: 0, top: 448 }}>
        <Panel
          title={titleWl}
          navy={wlNavy}
          teal={wlTeal}
          pink={wlPink}
          width={1407}
          height={433}
          yMin={-20}
          yMax={895}
          yAxisWidth={67.3}
          xAxisHeight={96.7}
          rightPad={18.7}
          yTitlePad={2.5}
        />
      </div>
    </div>
  );
}
